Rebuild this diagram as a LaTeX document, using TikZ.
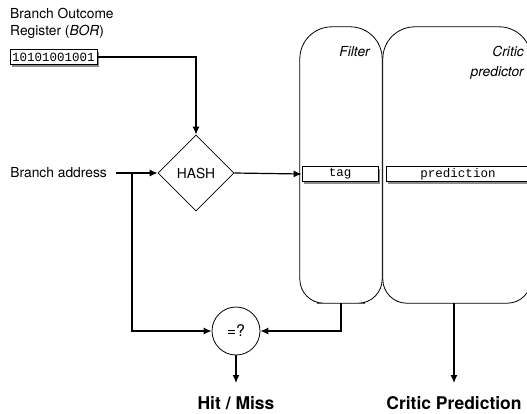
\documentclass[tikz,border=0pt]{standalone}
\usepackage{fontspec}
\setmainfont{TeX Gyre Heros}
\setmonofont{Liberation Mono}
\usetikzlibrary{arrows.meta,shapes.geometric,shadows}

\tikzset{
	link/.style={line width=1.2pt, -{Latex[length=8pt,width=7pt]}},
	unit/.style={inner sep=0pt},
	field/.style={draw, line width=0.8pt, fill=white, inner sep=0pt, minimum height=15pt,
		font=\fontsize{12.5}{15}\selectfont\ttfamily,
		drop shadow={shadow xshift=2pt, shadow yshift=-2pt, fill=black!45, opacity=1}},
	caption/.style={font=\fontsize{13.8}{16.5}\selectfont},
	result/.style={font=\fontsize{17.5}{20}\selectfont\bfseries},
}
% outline of a table: wide top corners, tighter bottom ones
\def\unitoutline(#1){\draw[line width=0.8pt] (#1.north) [rounded corners=32pt] -| (#1.west) [rounded corners=24pt] |- (#1.south) -| (#1.east) [rounded corners=32pt] |- (#1.north);}

\begin{document}
\begin{tikzpicture}[x=1pt, y=-1pt]
		%%%%% START %%%%%
		\clip (0, 0) rectangle (527, 413);
		
		\node[caption, align=left, anchor=north west, inner sep=0pt] (bortitle) at (10, 8) {Branch Outcome\\Register (\textit{BOR})};
		\node[field, minimum width=87pt] (bor) at (53.5, 57) {10101001001};
		
		\node[draw, diamond, line width=0.8pt, minimum size=76pt, inner sep=0pt, caption] (hash) at (196, 173) {HASH};
		\node[caption, anchor=east, inner sep=0pt] (addr) at (107, 173) {Branch address};
		\coordinate (fork) at (132, 173);
		
		\node[unit, minimum width=82pt, minimum height=276pt] (filter) at (341, 165) {};
		\node[unit, minimum width=148pt, minimum height=276pt] (critic) at (457, 165) {};
		\unitoutline(filter)
		\unitoutline(critic)
		
		\node[caption, anchor=base east, inner sep=0pt] (filtername) at (370, 56) {\itshape Filter};
		\node[caption, font=\fontsize{13.8}{20}\selectfont\itshape, align=right, anchor=north east, inner sep=0pt] (criticname) at (524, 46) {Critic\\predictor};
		
		\node[field, minimum width=76pt] (tag) at (340, 174) {tag};
		\node[field, minimum width=144pt] (pred) at (458, 174) {prediction};
		
		\node[draw, circle, line width=0.8pt, minimum size=48pt, inner sep=0pt, font=\fontsize{16}{19}\selectfont] (cmp) at (236, 331) {=?};
		
		\draw[link, shorten <=9pt] (addr.east) -- (hash.west);
		\draw[link] (bor.east) -| (hash.north);
		\draw[link] (hash.east) -- (tag.west);
		\draw[link] (fork) |- (cmp.west);
		\draw[link] (filter.south) |- (cmp.east);
		
		\coordinate (hitend) at (236, 383);
		\draw[link] (cmp.south) -- (hitend);
		\node[result, anchor=base] (hitmiss) at (236, 409) {Hit / Miss};
		
		\coordinate (critend) at (454, 383);
		\draw[link] (critic.south -| critend) -- (critend);
		\node[result, anchor=base] (critout) at (454, 409) {Critic Prediction};
		
		%%%%% END %%%%%
\end{tikzpicture}
\end{document}
